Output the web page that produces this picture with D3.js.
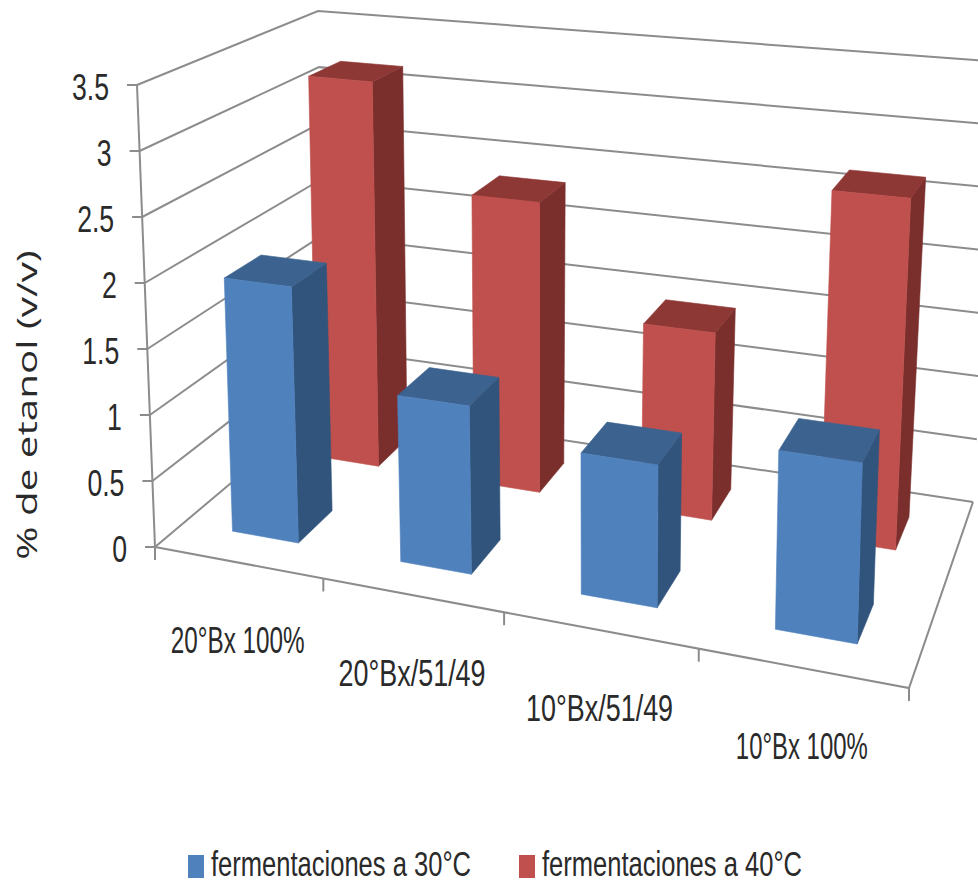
<!DOCTYPE html>
<html>
<head>
<meta charset="utf-8">
<style>
html,body{margin:0;padding:0;background:#fff;overflow:hidden}
svg{display:block}
text{font-family:"Liberation Sans Narrow","Liberation Sans",sans-serif;fill:#2a2a2a}
</style>
<script src="https://cdn.jsdelivr.net/npm/d3@7"></script>
</head>
<body>
<script>
// Ethanol yield per fermentation condition, as a 3D column chart
const categories = ["20°Bx 100%", "20°Bx/51/49", "10°Bx/51/49", "10°Bx 100%"];
const seriesNames = ["fermentaciones a 30°C", "fermentaciones a 40°C"];
const values30 = [1.95, 1.24, 1.02, 1.25];
const values40 = [3.18, 2.33, 1.46, 2.66];
const valueTicks = [0, 0.5, 1, 1.5, 2, 2.5, 3, 3.5];
const axisTitle = "% de etanol (v/v)";

const width = 978, height = 883;

// Projected corners of the plot box: floor plane and ceiling plane
const floorQuad = [[155,547],[909,688],[973,502],[325,404]];
const ceilQuad  = [[137,85],[926,160],[1000,62],[318,11]];

// Rendered widths of the condensed labels
const categoryLabelWidths = [134,147,147,132];

// Unit square -> quadrilateral homography
function homography(q){
  const [[x0,y0],[x1,y1],[x2,y2],[x3,y3]] = q;
  const dx1=x1-x2, dx2=x3-x2, sx=x0-x1+x2-x3;
  const dy1=y1-y2, dy2=y3-y2, sy=y0-y1+y2-y3;
  const den=dx1*dy2-dx2*dy1;
  const g=(sx*dy2-dx2*sy)/den, h=(dx1*sy-sx*dy1)/den;
  const a=x1-x0+g*x1, b=x3-x0+h*x3, d=y1-y0+g*y1, e=y3-y0+h*y3;
  return (u,v)=>{
    const w=g*u+h*v+1;
    return [(a*u+b*v+x0)/w,(d*u+e*v+y0)/w];
  };
}
const floorH = homography(floorQuad), ceilH = homography(ceilQuad);

const xBand = d3.scaleBand().domain(categories).range([0,1]).paddingInner(0.6).paddingOuter(0.3);
const zBand = d3.scaleBand().domain(seriesNames).range([0,1]).paddingInner(0.6).paddingOuter(0.3);
const yScale = d3.scaleLinear().domain([0,3.5]).range([0,1]);

function project(u,v,val){
  const a=floorH(u,v), b=ceilH(u,v), t=yScale(val);
  return [a[0]+(b[0]-a[0])*t, a[1]+(b[1]-a[1])*t];
}

const svg = d3.select("body").append("svg").attr("width",width).attr("height",height);
const gridColor = "#8c8c8c";
const line = d3.line();

// Walls: one polyline per value tick, along the left wall then the back wall
const gridG = svg.append("g").attr("fill","none").attr("stroke",gridColor).attr("stroke-width",2);
gridG.selectAll("path.grid").data(valueTicks).join("path").attr("class","grid")
  .attr("d",t=>line([project(0,0,t),project(0,1,t),project(1,1,t)]));

// Value axis, category axis and the floor's right edge
gridG.append("path").attr("d",line([project(0,0,0),project(0,0,3.5)]));
gridG.append("path").attr("d",line([project(0,0,0),project(1,0,0),project(1,1,0)]));

gridG.selectAll("path.ytick").data(valueTicks).join("path").attr("class","ytick")
  .attr("d",t=>{const p=project(0,0,t);return line([[p[0]-10,p[1]],p]);});
const xTickPos = d3.range(0,categories.length+1).map(i=>i/categories.length);
gridG.selectAll("path.xtick").data(xTickPos).join("path").attr("class","xtick")
  .attr("d",u=>{const p=project(u,0,0);return line([p,[p[0],p[1]+13]]);});

// Value labels: font narrowed further with a horizontal scale
svg.append("g").attr("font-size",37).attr("text-anchor","end")
  .selectAll("text").data(valueTicks).join("text").text(d=>d)
  .attr("transform",t=>{
    const p=project(0,0,t);
    return `translate(${p[0]-28},${p[1]+15}) scale(0.72,1)`;
  });

svg.append("text").text(axisTitle)
  .attr("transform","translate(37,405) rotate(-90) scale(1.44,1)")
  .attr("text-anchor","middle")
  .style("font-family","'Open Sans',sans-serif")
  .attr("font-size",28);

// Columns, back row first so the front row overlaps it
const palettes = [
  {front:"#4f81bd",side:"#31547c",top:"#3c638f"},
  {front:"#c0504d",side:"#7b2f2d",top:"#8e3835"}
];
const rows = [
  {name:seriesNames[1],vals:values40,pal:palettes[1]},
  {name:seriesNames[0],vals:values30,pal:palettes[0]}
];
rows.forEach(row=>{
  const z0=zBand(row.name), z1=z0+zBand.bandwidth();
  const g=svg.append("g").attr("class","row").attr("stroke-width",0.6);
  const bars=g.selectAll("g").data(categories.map((c,i)=>({c,v:row.vals[i]}))).join("g");
  const face=(d,pts)=>line(pts(xBand(d.c),xBand(d.c)+xBand.bandwidth(),d.v))+"Z";
  bars.append("path").attr("fill",row.pal.side).attr("stroke",row.pal.side)
    .attr("d",d=>face(d,(a,b,h)=>[project(b,z0,0),project(b,z1,0),project(b,z1,h),project(b,z0,h)]));
  bars.append("path").attr("fill",row.pal.top).attr("stroke",row.pal.top)
    .attr("d",d=>face(d,(a,b,h)=>[project(a,z0,h),project(b,z0,h),project(b,z1,h),project(a,z1,h)]));
  bars.append("path").attr("fill",row.pal.front).attr("stroke",row.pal.front)
    .attr("d",d=>face(d,(a,b,h)=>[project(a,z0,0),project(b,z0,0),project(b,z0,h),project(a,z0,h)]));
});

// Category labels, hung below the front edge
svg.append("g").attr("font-size",37).attr("text-anchor","middle")
  .selectAll("text").data(categories).join("text").text(d=>d)
  .attr("textLength",(d,i)=>categoryLabelWidths[i])
  .attr("lengthAdjust","spacingAndGlyphs")
  .attr("x",d=>project(xBand(d)+xBand.bandwidth()/2,0,0)[0])
  .attr("y",d=>project(xBand(d)+xBand.bandwidth()/2,0,0)[1]+91);

// Legend
const legend=svg.append("g");
const legendX=[188,519];
legend.selectAll("rect").data(seriesNames).join("rect")
  .attr("x",(d,i)=>legendX[i]).attr("y",855).attr("width",16).attr("height",23)
  .attr("fill",(d,i)=>palettes[i].front);
legend.selectAll("text").data(seriesNames).join("text").text(d=>d)
  .attr("font-size",35)
  .attr("transform",(d,i)=>`translate(${legendX[i]+23},876) scale(0.73,1)`);
</script>
</body>
</html>
